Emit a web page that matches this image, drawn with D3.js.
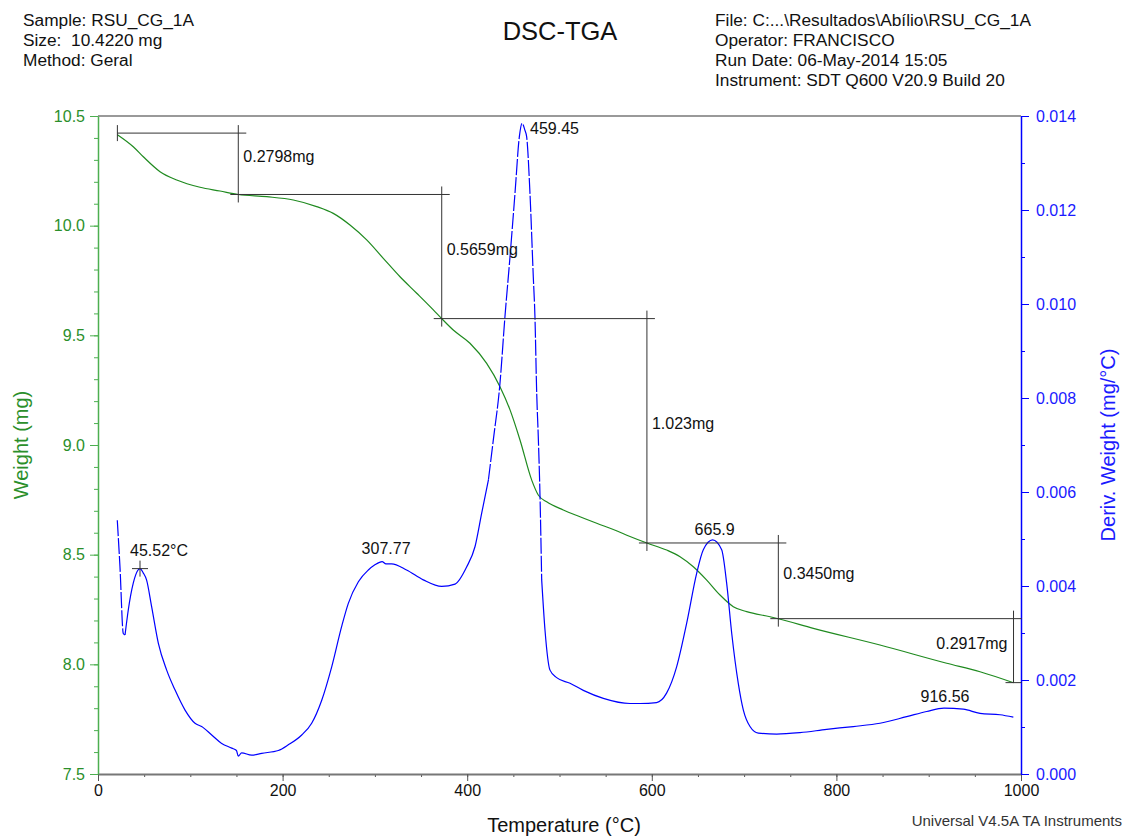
<!DOCTYPE html>
<html>
<head>
<meta charset="utf-8">
<script src="https://cdn.jsdelivr.net/npm/d3@7/dist/d3.min.js"></script>
<style>
  html, body { margin: 0; padding: 0; background: #fff; }
  svg { display: block; font-family: "Liberation Sans", Arial, sans-serif; }
</style>
</head>
<body>
<script>
// ---------------- DATA ----------------
const headerLeft = ["Sample: RSU_CG_1A", "Size:  10.4220 mg", "Method: Geral"];
const headerRight = ["File: C:...\\Resultados\\Abílio\\RSU_CG_1A", "Operator: FRANCISCO",
                     "Run Date: 06-May-2014 15:05", "Instrument: SDT Q600 V20.9 Build 20"];
const chartTitle = "DSC-TGA";
const footer = "Universal V4.5A TA Instruments";

const xTicks = [0, 200, 400, 600, 800, 1000];
const weightTicks = [7.5, 8.0, 8.5, 9.0, 9.5, 10.0, 10.5];
const derivTicks = [0.000, 0.002, 0.004, 0.006, 0.008, 0.010, 0.012, 0.014];

// TGA weight curve (°C, mg)
const tgaTemp = [21.0, 38.2, 49.1, 67.2, 85.3, 110.5, 132.2, 152.0, 182.8, 211.6, 236.9, 254.9,
  273.0, 291.1, 309.1, 327.2, 345.3, 363.3, 372.4, 384.9, 403.0, 421.1, 435.5, 446.4, 457.2,
  469.9, 477.0, 486.1, 504.1, 522.2, 540.3, 558.3, 576.4, 594.7, 616.1, 630.6, 645.0, 659.5,
  673.9, 688.3, 702.8, 728.1, 737.1, 775.0, 847.2, 919.5, 955.6, 991.9];
const tgaWeight = [10.415, 10.360, 10.314, 10.246, 10.208, 10.175, 10.158, 10.142, 10.132, 10.117,
  10.087, 10.056, 10.003, 9.935, 9.851, 9.767, 9.692, 9.616, 9.576, 9.524, 9.464, 9.372, 9.266,
  9.160, 9.023, 8.840, 8.772, 8.741, 8.704, 8.673, 8.643, 8.615, 8.583, 8.553, 8.521, 8.491,
  8.445, 8.384, 8.316, 8.263, 8.240, 8.217, 8.208, 8.164, 8.088, 8.005, 7.966, 7.916];

// DTG derivative curve (°C, mg/°C)
const dtgTemp = [20.9, 23.8, 27.4, 29.3, 32.8, 38.2, 43.0, 45.52, 49.0, 52.6, 58.1, 65.4, 74.4,
  83.4, 94.3, 105.1, 112.3, 123.2, 134.0, 144.9, 150.0, 152.0, 155.6, 166.5, 177.4, 195.4, 206.2,
  220.7, 231.5, 242.4, 253.2, 264.0, 271.2, 282.1, 292.9, 300.0, 307.77, 312.0, 318.1, 334.3,
  352.4, 372.4, 386.8, 399.5, 408.5, 415.7, 423.0, 428.3, 435.5, 440.9, 446.4, 451.8, 456.5,
  459.45, 462.5, 464.4, 468.0, 471.6, 473.4, 475.3, 477.0, 478.9, 480.7, 484.3, 489.7, 496.9,
  511.4, 525.8, 547.5, 576.4, 587.2, 605.2, 616.0, 626.9, 637.8, 648.6, 655.8, 665.9, 675.7,
  681.1, 686.6, 693.7, 699.2, 706.4, 715.4, 735.3, 760.6, 789.5, 818.3, 847.2, 876.1, 897.8,
  916.56, 937.5, 955.6, 977.2, 991.7];
const dtgDeriv = [0.00540, 0.00441, 0.00299, 0.00296, 0.00349, 0.00406, 0.00433, 0.00437, 0.00428,
  0.00413, 0.00356, 0.00278, 0.00221, 0.00179, 0.00136, 0.00108, 0.00101, 0.00083, 0.00065,
  0.00055, 0.00050, 0.00038, 0.00045, 0.00040, 0.00044, 0.00050, 0.00062, 0.00083, 0.00108,
  0.00157, 0.00228, 0.00314, 0.00363, 0.00409, 0.00434, 0.00445, 0.00452, 0.00447, 0.00447,
  0.00434, 0.00413, 0.00399, 0.00404, 0.00441, 0.00484, 0.00555, 0.00626, 0.00711, 0.00831,
  0.00973, 0.01101, 0.01236, 0.01356, 0.013845, 0.01370, 0.01356, 0.01236, 0.01058, 0.00973,
  0.00810, 0.00718, 0.00590, 0.00413, 0.00306, 0.00221, 0.00205, 0.00193, 0.00178, 0.00161,
  0.00150, 0.00150, 0.00152, 0.00172, 0.00228, 0.00321, 0.00427, 0.00477, 0.00498, 0.00477,
  0.00406, 0.00299, 0.00193, 0.00136, 0.00101, 0.00087, 0.00085, 0.00088, 0.00095, 0.00101,
  0.00108, 0.00122, 0.00133, 0.00140, 0.00138, 0.00129, 0.00126, 0.00121];

// Weight-step analysis
const stepStartWeight = 10.422;
const stepTemps = [21.0, 152.0, 372.4, 594.7, 737.1, 991.9];
const stepLosses = [0.2798, 0.5659, 1.023, 0.3450, 0.2917];
const stepLabels = ["0.2798mg", "0.5659mg", "1.023mg", "0.3450mg", "0.2917mg"];

// DTG peaks
const peakTemps = [45.52, 307.77, 459.45, 665.9, 916.56];
const peakDerivs = [0.00437, 0.00452, 0.013845, 0.00498, 0.00140];
const peakLabels = ["45.52°C", "307.77", "459.45", "665.9", "916.56"];

// ---------------- LAYOUT / STYLE ----------------
const W = 1126, H = 837;
const plot = { left: 98, right: 1021, top: 116, bottom: 774 };
const GREEN = "#1f8a1f", GREEN_TEXT = "#2b8f2b", GREEN_AXIS = "#4caf50";
const BLUE = "#0000ff", BLUE_TEXT = "#1a1aff";
const FONT = "Liberation Sans, Arial, sans-serif";
const dashRanges = [[20.9, 29.3], [423.0, 480.7]];
// per-peak label placement: [anchor, dx, dy (from peak point to text centre)]
const peakPlace = [["start", -10, -18], ["middle", 4, -13], ["start", 8, 5], ["middle", 2, -11], ["middle", 1, -12]];

const svg = d3.select("body").append("svg").attr("width", W).attr("height", H);
svg.append("rect").attr("width", W).attr("height", H).attr("fill", "#fff");

const x = d3.scaleLinear().domain([0, 1000]).range([plot.left, plot.right]);
const yW = d3.scaleLinear().domain([7.5, 10.5]).range([plot.bottom, plot.top]);
const yD = d3.scaleLinear().domain([0, 0.014]).range([plot.bottom, plot.top]);

// Header
const hdr = svg.append("g").attr("font-size", 17.3).attr("fill", "#111");
headerLeft.forEach((t, i) => hdr.append("text").attr("x", 23).attr("y", 26 + i * 20).style("white-space", "pre").text(t));
headerRight.forEach((t, i) => hdr.append("text").attr("x", 715).attr("y", 26 + i * 20).text(t));
svg.append("text").attr("x", 560).attr("y", 40).attr("text-anchor", "middle").attr("font-size", 25.5).attr("fill", "#111").text(chartTitle);

// Top frame line
svg.append("line").attr("x1", plot.left).attr("x2", plot.right).attr("y1", plot.top).attr("y2", plot.top)
  .attr("stroke", "#777").attr("stroke-width", 1.5);

// Bottom axis
const gx = svg.append("g").attr("transform", `translate(0,${plot.bottom})`);
gx.call(d3.axisBottom(x).tickValues(d3.range(0, 1001, 50)).tickSize(3).tickFormat("").tickSizeOuter(0));
gx.select(".domain").remove();
const gx2 = svg.append("g").attr("transform", `translate(0,${plot.bottom})`);
gx2.call(d3.axisBottom(x).tickValues(xTicks).tickSize(7).tickPadding(4).tickFormat(d3.format("d")).tickSizeOuter(0));
[gx, gx2].forEach(g => { g.selectAll("line").attr("stroke", "#555"); g.selectAll(".domain").attr("stroke", "#777").attr("stroke-width", 2); });
gx2.selectAll("text").attr("font-size", 16).attr("fill", "#111").attr("font-family", FONT);

// Left axis (weight)
const gl = svg.append("g").attr("transform", `translate(${plot.left},0)`);
gl.call(d3.axisLeft(yW).tickValues(d3.range(75, 106, 1).map(v => v / 10)).tickSize(4).tickFormat("").tickSizeOuter(0));
gl.select(".domain").remove();
const gl2 = svg.append("g").attr("transform", `translate(${plot.left},0)`);
gl2.call(d3.axisLeft(yW).tickValues(weightTicks).tickSize(8).tickPadding(5).tickFormat(d3.format(".1f")).tickSizeOuter(0));
[gl, gl2].forEach(g => { g.selectAll("line").attr("stroke", GREEN_AXIS); g.selectAll(".domain").attr("stroke", GREEN_AXIS).attr("stroke-width", 1.5); });
gl2.selectAll("text").attr("font-size", 16).attr("fill", GREEN_TEXT).attr("font-family", FONT);

// Right axis (derivative)
const gr = svg.append("g").attr("transform", `translate(${plot.right},0)`);
gr.call(d3.axisRight(yD).tickValues(d3.range(0, 15, 1).map(v => v / 1000)).tickSize(4).tickFormat("").tickSizeOuter(0));
gr.select(".domain").remove();
const gr2 = svg.append("g").attr("transform", `translate(${plot.right},0)`);
gr2.call(d3.axisRight(yD).tickValues(derivTicks).tickSize(8).tickPadding(7).tickFormat(d3.format(".3f")).tickSizeOuter(0));
[gr, gr2].forEach(g => { g.selectAll("line").attr("stroke", BLUE); g.selectAll(".domain").attr("stroke", BLUE).attr("stroke-width", 1.5); });
gr2.selectAll("text").attr("font-size", 16).attr("fill", BLUE_TEXT).attr("font-family", FONT);

// Axis titles
svg.append("text").attr("transform", `translate(28,${(plot.top + plot.bottom) / 2}) rotate(-90)`)
  .attr("text-anchor", "middle").attr("font-size", 20).attr("fill", GREEN_TEXT).text("Weight (mg)");
svg.append("text").attr("transform", `translate(1115,${(plot.top + plot.bottom) / 2}) rotate(-90)`)
  .attr("text-anchor", "middle").attr("font-size", 20).attr("fill", BLUE_TEXT).text("Deriv. Weight (mg/°C)");
svg.append("text").attr("x", 564).attr("y", 832).attr("text-anchor", "middle").attr("font-size", 20).attr("fill", "#111").text("Temperature (°C)");
svg.append("text").attr("x", 1122).attr("y", 826).attr("text-anchor", "end").attr("font-size", 15).attr("fill", "#333").text(footer);

// Curves
const tga = tgaTemp.map((t, i) => ({ t, v: tgaWeight[i] }));
const dtg = dtgTemp.map((t, i) => ({ t, v: dtgDeriv[i] }));
const inDash = t => dashRanges.some(([a, b]) => t > a && t < b);

svg.append("path").datum(tga)
  .attr("d", d3.line().x(d => x(d.t)).y(d => yW(d.v)).curve(d3.curveMonotoneX))
  .attr("fill", "none").attr("stroke", GREEN).attr("stroke-width", 1.2);

svg.append("path").datum(dtg)
  .attr("d", d3.line().defined(d => !inDash(d.t)).x(d => x(d.t)).y(d => yD(d.v)).curve(d3.curveMonotoneX))
  .attr("fill", "none").attr("stroke", BLUE).attr("stroke-width", 1.2);
dashRanges.forEach(([a, b]) => {
  svg.append("path").datum(dtg.filter(d => d.t >= a && d.t <= b))
    .attr("d", d3.line().x(d => x(d.t)).y(d => yD(d.v)).curve(d3.curveMonotoneX))
    .attr("fill", "none").attr("stroke", BLUE).attr("stroke-width", 1.2).attr("stroke-dasharray", "16,2");
});

// Step analysis lines
const stepWeights = [stepStartWeight];
stepLosses.forEach(l => stepWeights.push(+(stepWeights[stepWeights.length - 1] - l).toFixed(4)));
const sg = svg.append("g").attr("stroke", "#333").attr("stroke-width", 1);
const n = stepLosses.length;
const tick = 8;
// start cross
sg.append("line").attr("x1", x(stepTemps[0])).attr("x2", x(stepTemps[0]))
  .attr("y1", yW(stepWeights[0]) - tick).attr("y2", yW(stepWeights[0]) + tick);
for (let i = 0; i < n; i++) {
  const x0 = i === 0 ? x(stepTemps[0]) : x(stepTemps[i]) - tick;
  const x1 = x(stepTemps[i + 1]);
  const y0 = yW(stepWeights[i]), y1 = yW(stepWeights[i + 1]);
  sg.append("line").attr("x1", x0).attr("x2", x1 + tick).attr("y1", y0).attr("y2", y0);
  sg.append("line").attr("x1", x1).attr("x2", x1).attr("y1", y0 - tick).attr("y2", i === n - 1 ? y1 : y1 + tick);
  const last = i === n - 1;
  svg.append("text").attr("x", last ? x1 - 6 : x1 + 5).attr("y", (y0 + y1) / 2 - 7)
    .attr("dy", "0.35em").attr("text-anchor", last ? "end" : "start")
    .attr("font-size", 16).attr("fill", "#111").text(stepLabels[i]);
}
// end cross
sg.append("line").attr("x1", x(stepTemps[n]) - tick).attr("x2", x(stepTemps[n]) + tick)
  .attr("y1", yW(stepWeights[n])).attr("y2", yW(stepWeights[n]));

// Peak labels
peakTemps.forEach((t, i) => {
  const px = x(t), py = yD(peakDerivs[i]);
  const [anchor, dx, dy] = peakPlace[i];
  svg.append("text").attr("x", px + dx).attr("y", py + dy).attr("dy", "0.35em")
    .attr("text-anchor", anchor).attr("font-size", 16).attr("fill", "#111").text(peakLabels[i]);
});
// cross marker on the first peak
const cx = x(peakTemps[0]), cy = yD(peakDerivs[0]);
sg.append("line").attr("x1", cx - 8).attr("x2", cx + 8).attr("y1", cy).attr("y2", cy);
sg.append("line").attr("x1", cx).attr("x2", cx).attr("y1", cy - 8).attr("y2", cy + 8);
</script>
</body>
</html>
